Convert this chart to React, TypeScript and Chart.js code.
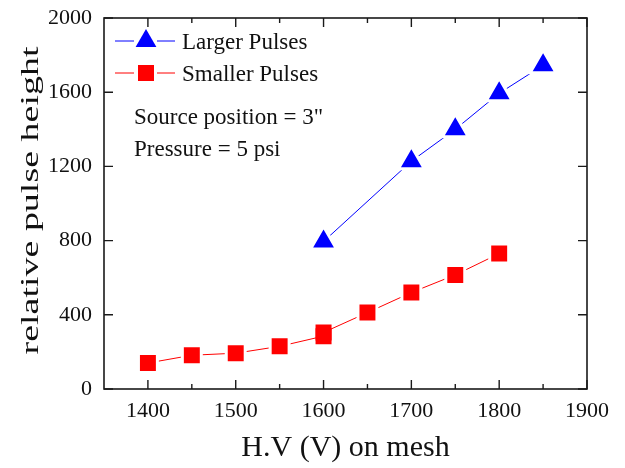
import React, { useEffect, useRef } from 'react';
import { Chart, registerables } from 'chart.js';

Chart.register(...registerables);

// ---- data ----
const largerHV = [1600, 1700, 1750, 1800, 1850];
const largerPH = [795, 1228, 1400, 1594, 1745];
const smallerHV = [1400, 1450, 1500, 1550, 1600, 1600, 1650, 1700, 1750, 1800];
const smallerPH = [140, 182, 193, 230, 285, 305, 412, 520, 615, 730];
const xMajorTicks = [1400, 1500, 1600, 1700, 1800, 1900];
const xMinorTicks = [1450, 1550, 1650, 1750, 1850];
const yTicks = [0, 400, 800, 1200, 1600, 2000];
const seriesNames = ['Larger Pulses', 'Smaller Pulses'];
const noteLines = ['Source position = 3"', 'Pressure = 5 psi'];
const xTitle = 'H.V (V) on mesh';
const yTitle = 'relative pulse height';

const BLUE = '#0000ff';
const RED = '#ff0000';
const FONT = '"Liberation Serif", "Times New Roman", serif';

function drawMarker(ctx: CanvasRenderingContext2D, style: string, x: number, y: number, r: number) {
  ctx.beginPath();
  if (style === 'triangle') {
    let rad = 0;
    ctx.moveTo(x + Math.sin(rad) * r, y - Math.cos(rad) * r);
    rad += (2 * Math.PI) / 3;
    ctx.lineTo(x + Math.sin(rad) * r, y - Math.cos(rad) * r);
    rad += (2 * Math.PI) / 3;
    ctx.lineTo(x + Math.sin(rad) * r, y - Math.cos(rad) * r);
    ctx.closePath();
  } else {
    const s = Math.SQRT1_2 * r;
    ctx.rect(x - s, y - s, 2 * s, 2 * s);
  }
  ctx.fill();
}

const framePlugin = {
  id: 'frame',
  afterDraw(chart: any) {
    const { ctx, chartArea: a, scales } = chart;
    const x = scales.x;
    const y = scales.y;
    ctx.save();
    ctx.strokeStyle = '#1a1a1a';
    ctx.lineWidth = 1.6;
    ctx.strokeRect(a.left, a.top, a.right - a.left, a.bottom - a.top);
    ctx.lineWidth = 1.4;
    ctx.beginPath();
    const tick = (v: number, len: number) => {
      const px = x.getPixelForValue(v);
      ctx.moveTo(px, a.bottom);
      ctx.lineTo(px, a.bottom - len);
      ctx.moveTo(px, a.top);
      ctx.lineTo(px, a.top + len);
    };
    xMajorTicks.forEach((v) => tick(v, 9));
    xMinorTicks.forEach((v) => tick(v, 5));
    yTicks.forEach((v) => {
      const py = y.getPixelForValue(v);
      ctx.moveTo(a.left, py);
      ctx.lineTo(a.left + 9, py);
      ctx.moveTo(a.right, py);
      ctx.lineTo(a.right - 9, py);
    });
    ctx.stroke();

    // y-axis title (stretched along its reading direction as in the reference)
    ctx.save();
    ctx.font = `26px ${FONT}`;
    ctx.fillStyle = '#111';
    ctx.textAlign = 'center';
    ctx.textBaseline = 'alphabetic';
    const w = ctx.measureText(yTitle).width;
    const sx = 308 / w;
    ctx.translate(38, (a.top + a.bottom) / 2 - 3);
    ctx.rotate(-Math.PI / 2);
    ctx.scale(sx, 1);
    ctx.fillText(yTitle, 0, 0);
    ctx.restore();

    // legend
    const rows = [
      { name: seriesNames[0], color: BLUE, style: 'triangle', y: 41, r: 12 },
      { name: seriesNames[1], color: RED, style: 'rect', y: 73, r: 11.3 },
    ];
    ctx.font = `23px ${FONT}`;
    ctx.textBaseline = 'alphabetic';
    ctx.textAlign = 'left';
    rows.forEach((r) => {
      ctx.strokeStyle = r.color;
      ctx.lineWidth = 1;
      ctx.beginPath();
      ctx.moveTo(115, r.y);
      ctx.lineTo(134, r.y);
      ctx.moveTo(157, r.y);
      ctx.lineTo(175, r.y);
      ctx.stroke();
      ctx.fillStyle = r.color;
      drawMarker(ctx, r.style, 146, r.y, r.r);
      ctx.fillStyle = '#111';
      ctx.fillText(r.name, 182, r.y + 8);
    });
    ctx.fillStyle = '#111';
    ctx.fillText(noteLines[0], 134, 124);
    ctx.fillText(noteLines[1], 134, 156);
    ctx.restore();
  },
};

export default function App() {
  const ref = useRef<HTMLCanvasElement>(null);
  useEffect(() => {
    if (!ref.current) return;
    const isDup = (c: any) => {
      const d = c.dataset.data;
      const p = d[c.dataIndex];
      return !!p && d.some((q: any, j: number) => j !== c.dataIndex && q.x === p.x);
    };
    const chart = new Chart(ref.current, {
      type: 'scatter',
      data: {
        datasets: [
          {
            label: seriesNames[0],
            data: largerHV.map((v, i) => ({ x: v, y: largerPH[i] })),
            showLine: true,
            borderColor: BLUE,
            borderWidth: 1,
            backgroundColor: BLUE,
            pointStyle: 'triangle',
            pointRadius: 15,
            pointBorderWidth: 3,
            pointBorderColor: '#ffffff',
            pointBackgroundColor: BLUE,
          },
          {
            label: seriesNames[1],
            data: smallerHV.map((v, i) => ({ x: v, y: smallerPH[i] })),
            showLine: true,
            borderColor: RED,
            borderWidth: 1,
            backgroundColor: RED,
            pointStyle: 'rect',
            pointRadius: (c: any) => (isDup(c) ? 9.2 : 13.4),
            pointBorderWidth: 3,
            pointBorderColor: (c: any) => (isDup(c) ? RED : '#ffffff'),
            pointBackgroundColor: RED,
          },
        ],
      },
      options: {
        animation: false,
        responsive: false,
        maintainAspectRatio: false,
        layout: { padding: { top: 15, right: 38, left: 0, bottom: 0 } },
        plugins: { legend: { display: false }, tooltip: { enabled: false } },
        scales: {
          x: {
            type: 'linear',
            min: 1350,
            max: 1900,
            afterBuildTicks: (s: any) => {
              s.ticks = xMajorTicks.map((v) => ({ value: v }));
            },
            afterFit: (s: any) => {
              s.height = 79;
              s.paddingLeft = 0;
              s.paddingRight = 0;
            },
            grid: { display: false, drawTicks: false },
            border: { display: false },
            ticks: {
              padding: 9,
              color: '#111',
              font: { family: FONT, size: 22 },
              maxRotation: 0,
              callback: (v: any) => String(v),
            },
            title: {
              display: true,
              text: xTitle,
              color: '#111',
              font: { family: FONT, size: 30 },
              padding: { top: 0, bottom: 2 },
            },
          },
          y: {
            type: 'linear',
            min: 0,
            max: 2000,
            afterBuildTicks: (s: any) => {
              s.ticks = yTicks.map((v) => ({ value: v }));
            },
            afterFit: (s: any) => {
              s.width = 104;
              s.paddingTop = 0;
              s.paddingBottom = 0;
            },
            grid: { display: false, drawTicks: false },
            border: { display: false },
            ticks: {
              padding: 12,
              color: '#111',
              font: { family: FONT, size: 22 },
              callback: (v: any) => String(v),
            },
            title: { display: false },
          },
        },
      },
      plugins: [framePlugin],
    } as any);
    return () => chart.destroy();
  }, []);
  return (
    <div style={{ position: 'absolute', left: 0, top: 0, width: 625, height: 468, background: '#fff' }}>
      <canvas ref={ref} width={625} height={468} style={{ width: 625, height: 468, display: 'block' }} />
    </div>
  );
}
